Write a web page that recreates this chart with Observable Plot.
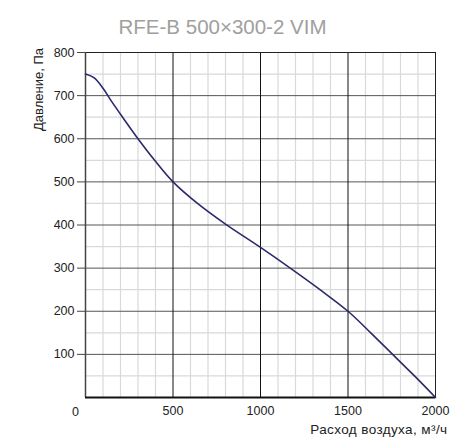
<!DOCTYPE html>
<html>
<head>
<meta charset="utf-8">
<script src="https://cdn.jsdelivr.net/npm/d3@7"></script>
<script src="https://cdn.jsdelivr.net/npm/@observablehq/plot@0.6"></script>
<style>
  html, body { margin: 0; padding: 0; background: #fff; }
</style>
</head>
<body>
<div id="chart"></div>
<script>
const title = "RFE-B 500×300-2 VIM";
const xLabel = "Расход воздуха, м³/ч";
const yLabel = "Давление, Па";

const flow     = [0, 50, 100, 150, 210, 300, 395, 500, 640, 800, 1000, 1170, 1340, 1500, 1630, 1755, 1880, 2000];
const pressure = [750, 741, 717, 686, 651, 600, 550, 500, 450, 402, 348, 300, 250, 200, 150, 100, 50, 0];

const xMajor = [500, 1000, 1500, 2000];
const xMinor = [100, 200, 300, 400, 600, 700, 800, 900, 1100, 1200, 1300, 1400, 1600, 1700, 1800, 1900];
const yMajor = [100, 200, 300, 400, 500, 600, 700, 800];
const yMinor = [50, 150, 250, 350, 450, 550, 650, 750];
const xTickLabels = [500, 1000, 1500, 2000];
const yTickLabels = [100, 200, 300, 400, 500, 600, 700, 800];

const data = flow.map((f, i) => ({flow: f, pressure: pressure[i]}));

const chart = Plot.plot({
  width: 453,
  height: 446,
  marginLeft: 85,
  marginRight: 18,
  marginTop: 52,
  marginBottom: 49,
  x: {domain: [0, 2000]},
  y: {domain: [0, 800]},
  style: {fontFamily: "'Liberation Sans', Arial, sans-serif", fontSize: "12.5px", color: "#222", background: "#fff"},
  marks: [
    Plot.ruleX(xMinor, {stroke: "#d9d9d9", strokeWidth: 1.2}),
    Plot.ruleY(yMinor, {stroke: "#d9d9d9", strokeWidth: 1.2}),
    Plot.ruleY(yMajor, {stroke: "#555"}),
    Plot.ruleX(xMajor, {stroke: "#111"}),
    Plot.frame({stroke: "#222"}),
    Plot.ruleX([0], {stroke: "#444", strokeWidth: 1.5}),
    Plot.ruleY([0], {stroke: "#111", strokeWidth: 2}),
    Plot.axisY(yTickLabels, {tickSize: 8, tickPadding: 3, stroke: "#444", fill: "#222", label: null, tickFormat: d3.format("d")}),
    Plot.axisX(xTickLabels, {tickSize: 0, tickPadding: 9, fill: "#222", label: null, tickFormat: d3.format("d")}),
    Plot.text([0], {x: d => d, y: 0, text: d => String(d), dx: -10, dy: 14, fill: "#222"}),
    Plot.line(data, {x: "flow", y: "pressure", stroke: "#2b2a6b", strokeWidth: 1.6, curve: "catmull-rom"}),
    Plot.text([xLabel], {frameAnchor: "bottom-right", text: d => d, dx: 12, dy: 36, textAnchor: "end", fontSize: 13.5, fill: "#222"}),
    Plot.text([yLabel], {frameAnchor: "top-left", text: d => d, dx: -52, dy: 37, rotate: -90, textAnchor: "middle", fontSize: 13, fill: "#222"}),
    Plot.text([title], {frameAnchor: "top", text: d => d, dx: -38, dy: -33, fontSize: 20.5, fill: "#a0a0a0"})
  ]
});

d3.select(chart).selectAll("text")
  .filter(function() { return this.textContent === xLabel; })
  .style("letter-spacing", "0.4px");

document.getElementById("chart").appendChild(chart);
</script>
</body>
</html>
